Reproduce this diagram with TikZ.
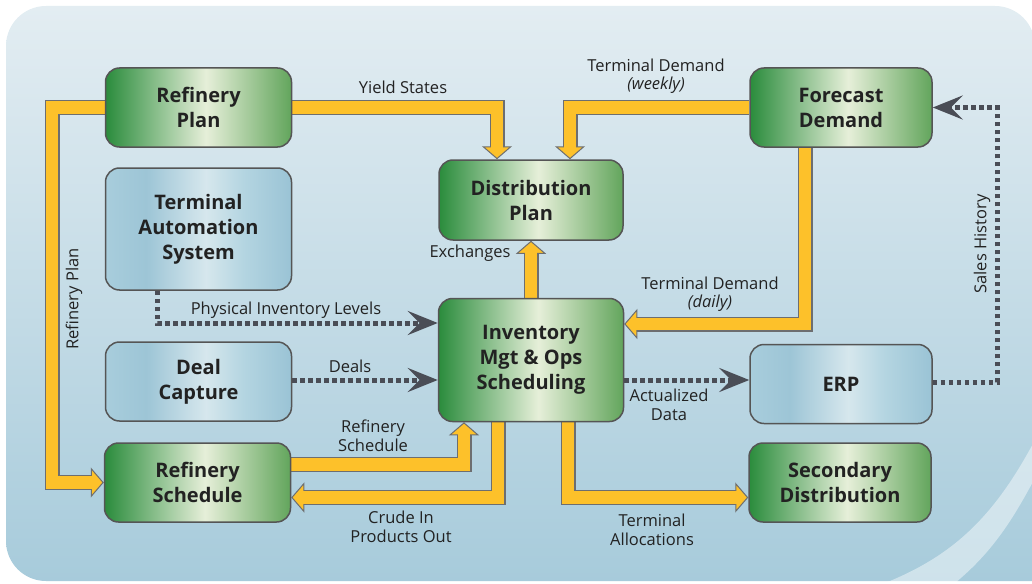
\documentclass[tikz,border=0pt]{standalone}
\usepackage{fontspec}
\setmainfont{Open Sans}
\usetikzlibrary{arrows.meta}

\definecolor{gdark}{HTML}{2A8C3C}
\definecolor{glight}{HTML}{E6EFD9}
\definecolor{gmid}{HTML}{62A55C}
\definecolor{bl1}{HTML}{A8CDDC}
\definecolor{bl2}{HTML}{9DC5D6}
\definecolor{bl3}{HTML}{D6E7ED}
\definecolor{bl4}{HTML}{B4D5E1}
\definecolor{bl5}{HTML}{9AC3D5}
\definecolor{byellow}{HTML}{FDC12A}
\definecolor{bandgray}{HTML}{6D6E70}
\definecolor{dotgray}{HTML}{4A4D56}
\definecolor{bgtop}{HTML}{E3EDF2}
\definecolor{bgbot}{HTML}{A7CBDB}
\definecolor{boxline}{HTML}{555555}
\definecolor{txt}{HTML}{222222}

\pgfdeclarehorizontalshading{gshade}{100bp}{color(0bp)=(gdark); color(25bp)=(gdark);
  color(52bp)=(glight); color(75bp)=(gmid); color(100bp)=(gmid)}
\pgfdeclarehorizontalshading{bshade}{100bp}{color(0bp)=(bl1); color(25bp)=(bl1);
  color(36bp)=(bl2); color(52bp)=(bl3); color(62bp)=(bl4); color(75bp)=(bl5); color(100bp)=(bl5)}
\pgfdeclareverticalshading{bgshade}{100bp}{color(0bp)=(bgbot); color(25bp)=(bgbot);
  color(75bp)=(bgtop); color(100bp)=(bgtop)}

\pgfdeclarelayer{back}
\pgfsetlayers{back,main}

\tikzset{
  box/.style={draw=boxline, line width=1.5pt, rounded corners=14pt, align=center,
    minimum width=186pt, minimum height=79pt, text=txt,
    font=\fontsize{20}{25}\selectfont\bfseries},
  gbox/.style={box, shading=gshade},
  bbox/.style={box, shading=bshade},
  lbl/.style={font=\fontsize{16.5}{18.5}\selectfont, text=txt, align=center, inner sep=0pt},
  band/.style={draw=byellow, line width=12.8pt, line join=miter, shorten >=11.5pt,
    preaction={draw=bandgray, line width=15pt, shorten >=0pt,
      -{Triangle[length=13pt, width=30pt, line width=1pt, fill=byellow]}}},
  dots/.style={draw=dotgray, line width=5pt, dash pattern=on 4.5pt off 3.5pt,
    -{Stealth[length=30pt, width=24pt, inset=12pt]}}
}

\begin{document}
\begin{tikzpicture}[x=1pt, y=-1pt]
  \useasboundingbox (0,0) rectangle (1032,583);

  % boxes
  \node[gbox] (rplan) at (198.5,107.5) {Refinery\\Plan};
  \node[bbox, minimum height=122pt] (tas) at (198.5,229) {Terminal\\Automation\\System};
  \node[bbox] (deal) at (198.5,381.5) {Deal\\Capture};
  \node[gbox] (rsched) at (197.5,482.5) {Refinery\\Schedule};
  \node[gbox, minimum width=184pt, minimum height=80pt] (dplan) at (531,200) {Distribution\\Plan};
  \node[gbox, minimum width=185pt, minimum height=123pt] (inv) at (531,360)
    {Inventory\\Mgt \& Ops\\Scheduling};
  \node[gbox, minimum width=182pt] (fdem) at (841,107.5) {Forecast\\Demand};
  \node[bbox, minimum width=182pt] (erp) at (841,384) {ERP};
  \node[gbox, minimum width=182pt] (sdist) at (840,482.5) {Secondary\\Distribution};

  \begin{pgfonlayer}{back}
    % background
    \shade[shading=bgshade] (1035,581) -- (1035,46) [rounded corners=40pt] -- (1035,6)
      -- (6,6) -- (6,581) -- (600,581) [sharp corners] -- cycle;
    \fill[white, opacity=.45] (1035,440) .. controls (995,515) and (955,555) .. (885,583)
      -- (955,583) .. controls (995,550) and (1015,515) .. (1035,478) -- cycle;

    % flows
    \draw[band] (rplan.west) -- (52,107.5) |- (rsched.west);
    \draw[band] (rplan.east) -| ([xshift=-34pt]dplan.north);
    \draw[band] (fdem.west) -| ([xshift=39pt]dplan.north);
    \draw[band] ([xshift=-36pt]fdem.south) |- ([yshift=36pt]inv.east);
    \draw[band] (inv.north) -- (dplan.south);
    \draw[band] ([yshift=18pt]rsched.east) -| ([xshift=-67pt]inv.south);
    \draw[band] ([xshift=-33pt]inv.south) |- ([yshift=-15pt]rsched.east);
    \draw[band] ([xshift=37pt]inv.south) |- ([yshift=-15pt]sdist.west);

    \draw[dots] ([xshift=-41pt]tas.south) |- ([yshift=37pt]inv.west);
    \draw[dots] ([yshift=1.5pt]deal.east) -- ([yshift=1.5pt]deal.east -| inv.west);
    \draw[dots] ([yshift=-20pt]inv.east) -- ([yshift=-20pt]inv.east -| erp.west);
    \draw[dots] ([yshift=2pt]erp.east) -- (997,382) |- (fdem.east);
  \end{pgfonlayer}

  % labels
  \node[lbl, rotate=90] (lrplan) at (74,299) {Refinery Plan};
  \node[lbl] (lyield) at (403,87) {Yield States};
  \node[lbl] (lweekly) at (656,76) {Terminal Demand\\\textit{(weekly)}};
  \node[lbl] (ldaily) at (710,294) {Terminal Demand\\\textit{(daily)}};
  \node[lbl] (lexch) at (470,253) {Exchanges};
  \node[lbl] (lphys) at (286,310) {Physical Inventory Levels};
  \node[lbl] (ldeals) at (350,366) {Deals};
  \node[lbl] (lrs) at (373,436) {Refinery\\Schedule};
  \node[lbl] (lcrude) at (401,527) {Crude In\\Products Out};
  \node[lbl] (lact) at (669,405) {Actualized\\Data};
  \node[lbl] (lalloc) at (652,530) {Terminal\\Allocations};
  \node[lbl, rotate=90] (lsales) at (982,244) {Sales History};
\end{tikzpicture}
\end{document}
